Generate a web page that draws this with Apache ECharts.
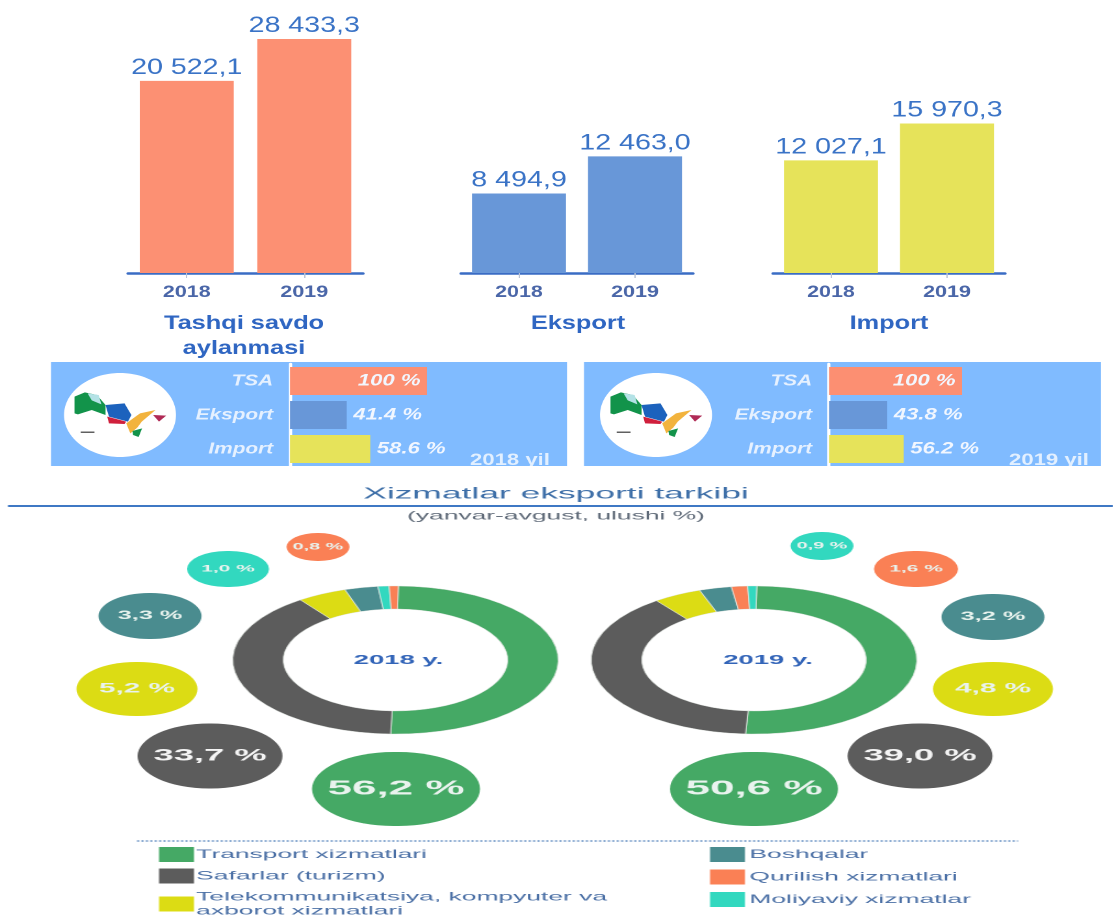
<!DOCTYPE html>
<html>
<head>
<meta charset="utf-8">
<title>Tashqi savdo</title>
<script src="https://cdn.jsdelivr.net/npm/echarts@6/dist/echarts.min.js"></script>
<style>
  html, body { margin: 0; padding: 0; background: #fff; overflow: hidden; }
  #page { position: relative; width: 1113px; height: 918px; overflow: hidden; }
  /* reference is a horizontally stretched picture, so charts are drawn narrow and stretched */
  .stretch { position: absolute; left: 0; top: 0; transform-origin: 0 0; }
</style>
</head>
<body>
<div id="page">
  <div id="topChart" class="stretch"></div>
  <div id="lowChart" class="stretch"></div>
</div>
<script>
"use strict";
var years = ["2018", "2019"];
var turnover = [20522.1, 28433.3];
var exports_ = [8494.9, 12463.0];
var imports_ = [12027.1, 15970.3];

var shareNames = ["TSA", "Eksport", "Import"];
var shares2018 = [100, 41.4, 58.6];
var shares2019 = [100, 43.8, 56.2];

var serviceNames = ["Transport xizmatlari", "Safarlar (turizm)", "Telekommunikatsiya, kompyuter va\naxborot xizmatlari",
  "Boshqalar", "Qurilish xizmatlari", "Moliyaviy xizmatlar"];
// printed percentages
var printed2018 = [56.2, 33.7, 5.2, 3.3, 0.8, 1.0];
var printed2019 = [50.6, 39.0, 4.8, 3.2, 1.6, 0.9];
// 2018 ring in the picture does not follow its printed numbers, these are read off the ring itself
var ring2018 = [50.2, 39.6, 4.9, 3.3, 0.9, 1.1];
var ring2019 = [50.6, 39.0, 4.8, 3.2, 1.6, 0.9];

var serviceColors = ["#45a965", "#5c5c5c", "#dcdc14", "#4a8c8f", "#fa8055", "#32d8bf"];

var BLUE = "#3a6cc4";
var FONT = "Liberation Sans";
var TOP_S = 1.3;
var LOW_S = 2.2;

function tx(x) { return x / TOP_S; }
function lx(x) { return x / LOW_S; }

function money(v) {
  return v.toFixed(1).replace(".", ",").replace(/\B(?=(\d{3})+(?!\d))/g, " ");
}

function size(id, s, h) {
  var el = document.getElementById(id);
  el.style.width = Math.ceil(1113 / s) + "px";
  el.style.height = h + "px";
  el.style.transform = "scaleX(" + s + ")";
  return echarts.init(el, null, { devicePixelRatio: 2 });
}

/**上面的柱状图**/
var barGrids = [
  { left: 128, right: 363, color: "#fc9073", data: turnover, title: "Tashqi savdo\naylanmasi", cx: 244 },
  { left: 461, right: 693, color: "#6897d8", data: exports_, title: "Eksport", cx: 578 },
  { left: 773, right: 1005, color: "#e6e35a", data: imports_, title: "Import", cx: 889 }
];
// y scale keeps 2018 turnover on the same px/unit as the others, the 2019 bar is cut by the grid like in the picture
var BAR_MAX = 25000;

/**中间的横条**/
var panels = [
  { left: 51, right: 567, zero: 290, width: 137, data: shares2018, year: "2018 yil", yearX: 470, mapDx: 0 },
  { left: 584, right: 1101, zero: 829, width: 133, data: shares2019, year: "2019 yil", yearX: 1009, mapDx: 536 }
];
var barColors = ["#fc8f72", "#6897d8", "#e6e35a"];

var grid = [], xAxis = [], yAxis = [], series = [], graphic = [];

barGrids.forEach(function (g, i) {
  grid.push({ left: tx(g.left), width: tx(g.right - g.left), top: 39, height: 234 });
  xAxis.push({
    type: "category", gridIndex: i, data: years,
    axisLine: { lineStyle: { color: BLUE, width: 2.5 } },
    axisTick: { show: true, alignWithLabel: true, length: 5, lineStyle: { color: "#b9c3d6" } },
    axisLabel: { color: "#4a66a8", fontFamily: FONT, fontWeight: "bold", fontSize: 16.5, margin: 11 }
  });
  yAxis.push({ type: "value", gridIndex: i, min: 0, max: BAR_MAX, show: false });
  series.push({
    type: "bar", xAxisIndex: i, yAxisIndex: i, data: g.data, barWidth: tx(94), clip: true,
    itemStyle: { color: g.color },
    label: {
      show: true, position: "top", distance: 2, color: "#3a73c6", fontFamily: FONT, fontSize: 22,
      formatter: function (p) { return money(p.value); }
    }
  });
  graphic.push({
    type: "text", x: tx(g.cx), y: 311,
    style: {
      text: g.title, fill: "#2f66c2", font: "bold 19.5px " + FONT, align: "center", verticalAlign: "top", lineHeight: 25
    }
  });
});

var mapParts = [
  { color: "#12934a", pts: [[100, 125], [130, 112], [165, 120], [190, 150], [190, 180], [150, 165], [110, 178], [100, 175]] },
  { color: "#b4e2e6", pts: [[138, 115], [170, 120], [178, 148], [150, 136]] },
  { color: "#1c62bd", pts: [[190, 150], [245, 145], [265, 180], [255, 200], [200, 185]] },
  { color: "#d01f3c", pts: [[195, 185], [250, 200], [245, 207], [200, 205]] },
  { color: "#f2b33d", pts: [[250, 205], [290, 175], [335, 165], [295, 200], [282, 218], [262, 235]] },
  { color: "#12934a", pts: [[268, 228], [296, 220], [286, 246], [270, 240]] },
  { color: "#b02a55", pts: [[328, 180], [366, 182], [345, 200]] },
  { color: "#111111", pts: [[118, 230], [158, 230], [158, 233], [118, 233]] }
];

panels.forEach(function (p, k) {
  var i = barGrids.length + k;
  graphic.push({
    type: "rect", z: -1,
    shape: { x: tx(p.left), y: 362, width: tx(p.right - p.left), height: 110 },
    style: { fill: "#80bbff" }
  });
  graphic.push({
    type: "ellipse", z: -1,
    shape: { cx: tx(120 + p.mapDx), cy: 415, rx: tx(56), ry: 42 },
    style: { fill: "#ffffff" }
  });
  mapParts.forEach(function (m) {
    graphic.push({
      type: "polygon", z: -1,
      shape: { points: m.pts.map(function (q) { return [tx(40 + p.mapDx + q[0] / 2.9), 355 + q[1] / 3]; }) },
      style: { fill: m.color }
    });
  });
  graphic.push({
    type: "text", x: tx(p.yearX), y: 452,
    style: { text: p.year, fill: "#e3f0ff", font: "bold 17px " + FONT }
  });
  grid.push({ left: tx(p.zero), width: tx(p.width), top: 364, height: 102 });
  xAxis.push({ type: "value", gridIndex: i, min: 0, max: 100, show: false });
  yAxis.push({
    type: "category", gridIndex: i, data: shareNames, inverse: true,
    axisLine: { lineStyle: { color: "#ffffff", width: 2.5 } },
    axisTick: { length: 7, lineStyle: { color: "#d8e9ff" } },
    axisLabel: { color: "#e6f1ff", fontFamily: FONT, fontStyle: "italic", fontWeight: "bold", fontSize: 16, margin: 13 }
  });
  series.push({
    type: "bar", xAxisIndex: i, yAxisIndex: i, barWidth: 28,
    data: p.data.map(function (v, j) {
      return {
        value: v,
        itemStyle: { color: barColors[j] },
        label: { position: j === 0 ? "insideRight" : "right" }
      };
    }),
    label: {
      show: true, color: "#f2f7ff", fontFamily: FONT, fontStyle: "italic", fontWeight: "bold", fontSize: 17,
      formatter: function (q) { return q.value + " %"; }
    }
  });
});

var topChart = size("topChart", TOP_S, 466);
topChart.setOption({
  animation: false,
  grid: grid, xAxis: xAxis, yAxis: yAxis, series: series, graphic: graphic
});

/**下面的环形图**/
// centre and size of each value bubble, picture px
var bubbles2018 = [[396, 789, 168, 74], [210, 756, 145, 65], [137, 689, 121, 54], [150, 616, 103, 46], [318, 547, 63, 28], [228, 569, 82, 36]];
var bubbles2019 = [[754, 789, 168, 74], [920, 756, 145, 65], [993, 689, 120, 54], [993, 617, 103, 46], [916, 569, 84, 36], [822, 546, 63, 28]];
var bubbleFonts2018 = [20, 16.5, 13.5, 11.5, 9, 9.5];
var bubbleFonts2019 = [20, 16.5, 13.5, 11.5, 9.5, 9];

// 2018 ring draws turquoise before orange, 2019 orange before turquoise
function donut(ring, printed, boxes, fonts, centerX, order) {
  return {
    type: "pie", center: [lx(centerX), 660], radius: [51, 74], startAngle: 89,
    clockwise: true, avoidLabelOverlap: false, silent: true,
    itemStyle: { borderColor: "#dfe5df", borderWidth: 0.4 },
    labelLine: { show: false },
    data: order.map(function (idx) {
      var b = boxes[idx];
      return {
        name: serviceNames[idx],
        value: ring[idx],
        itemStyle: { color: serviceColors[idx] },
        label: {
          show: true, position: "outside", overflow: "none",
          formatter: printed[idx].toFixed(1).replace(".", ",") + " %",
          width: lx(b[2]), height: b[3], lineHeight: b[3], align: "center", verticalAlign: "middle",
          backgroundColor: serviceColors[idx], borderRadius: b[3] / 2,
          color: idx === 1 ? "#f4f4f4" : "#e9f3ee", fontFamily: FONT, fontWeight: "bold", fontSize: fonts[idx]
        }
      };
    }),
    labelLayout: function (p) {
      var b = boxes[order[p.dataIndex]];
      return { x: lx(b[0]), y: b[1], align: "center", verticalAlign: "middle", hideOverlap: false };
    }
  };
}

var order2018 = [0, 1, 2, 3, 5, 4];
var order2019 = [0, 1, 2, 3, 4, 5];

// canvas is taller than the page so the legend has room and does not wrap into a second column
var lowChart = size("lowChart", LOW_S, 980);
lowChart.setOption({
  animation: false,
  title: [
    {
      text: "Xizmatlar eksporti tarkibi", left: lx(556), top: 486, textAlign: "center", padding: 0,
      textStyle: { color: "#3e6fa8", fontFamily: FONT, fontWeight: "normal", fontSize: 16.1 }
    },
    {
      text: "(yanvar-avgust, ulushi %)", left: lx(556), top: 510, textAlign: "center", padding: 0,
      textStyle: { color: "#5f6a78", fontFamily: FONT, fontWeight: "normal", fontSize: 12 }
    },
    {
      text: "2018 y.", left: lx(398.5), top: 654, textAlign: "center", padding: 0,
      textStyle: { color: "#3264b8", fontFamily: FONT, fontWeight: "bold", fontSize: 12.5 }
    },
    {
      text: "2019 y.", left: lx(768), top: 654, textAlign: "center", padding: 0,
      textStyle: { color: "#3264b8", fontFamily: FONT, fontWeight: "bold", fontSize: 12.5 }
    }
  ],
  legend: [
    {
      data: serviceNames.slice(0, 3), left: lx(159), top: 847, orient: "vertical", itemGap: 6.5, padding: 0,
      itemWidth: lx(35), itemHeight: 15, selectedMode: false, icon: "rect", itemStyle: { borderWidth: 0 },
      textStyle: { color: "#4a6fa5", fontFamily: FONT, fontSize: 12, lineHeight: 14, padding: [0, 0, 0, -4] }
    },
    {
      data: serviceNames.slice(3), left: lx(710), top: 847, orient: "vertical", itemGap: 7.5, padding: 0,
      itemWidth: lx(35), itemHeight: 15, selectedMode: false, icon: "rect", itemStyle: { borderWidth: 0 },
      textStyle: { color: "#4a6fa5", fontFamily: FONT, fontSize: 12, lineHeight: 14, padding: [0, 0, 0, -3] }
    }
  ],
  graphic: [
    { type: "line", shape: { x1: lx(8), y1: 506, x2: lx(1113), y2: 506 }, style: { stroke: "#3f78c4", lineWidth: 2 } },
    { type: "line", shape: { x1: lx(137), y1: 841, x2: lx(1018), y2: 841 }, style: { stroke: "#6a93c4", lineWidth: 1.5, lineDash: [1, 1] } }
  ],
  series: [
    donut(ring2018, printed2018, bubbles2018, bubbleFonts2018, 395.5, order2018),
    donut(ring2019, printed2019, bubbles2019, bubbleFonts2019, 754, order2019)
  ]
});
</script>
</body>
</html>
